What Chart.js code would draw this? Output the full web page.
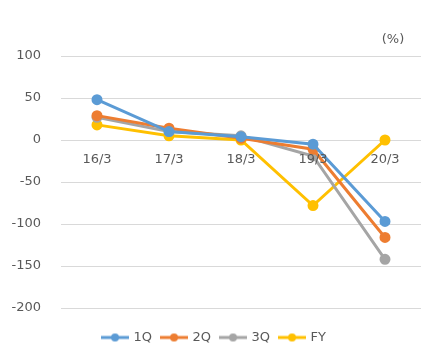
<!DOCTYPE html>
<html><head><meta charset="utf-8">
<script src="https://cdn.jsdelivr.net/npm/chart.js@4/dist/chart.umd.min.js"></script>
<style>html,body{margin:0;padding:0;background:#fff}</style>
</head><body><canvas id="c" width="436" height="360"></canvas>
<script>
const categories = ['16/3','17/3','18/3','19/3','20/3'];
const q1 = [48, 10, 4, -5, -97];
const q2 = [29, 14, 2, -11, -116];
const q3 = [27, 10, 5, -19, -142];
const fy = [18, 5, 0, -78, 0];
const seriesNames = ['1Q','2Q','3Q','FY'];
const colors = ['#5B9BD5','#ED7D31','#A5A5A5','#FFC000'];
const unitLabel = '(%)';
const fontFam = "'DejaVu Sans', Verdana, sans-serif";
const textColor = '#595959';
const gridColor = '#D9D9D9';

function legendIcon(color){
  const cv = document.createElement('canvas');
  cv.width = 28; cv.height = 10;
  const g = cv.getContext('2d');
  g.strokeStyle = color; g.lineWidth = 3;
  g.beginPath(); g.moveTo(0,5); g.lineTo(28,5); g.stroke();
  g.fillStyle = color; g.beginPath(); g.arc(14,5,4,0,Math.PI*2); g.fill();
  return cv;
}
const icons = colors.map(legendIcon);

const allData = [q1,q2,q3,fy];
const datasets = allData.map((d,i)=>({
  label: seriesNames[i], data: d, borderColor: colors[i], backgroundColor: colors[i],
  borderWidth: 3, pointRadius: 4, pointHoverRadius: 4, pointStyle:'circle', tension: 0
}));

// horizontal grid at the y scale's own ticks
const gridPlugin = {
  id:'gridFallback',
  beforeDatasetsDraw(chart){
    const {ctx, chartArea, scales} = chart;
    ctx.save();
    ctx.strokeStyle = gridColor; ctx.lineWidth = 1;
    scales.y.ticks.forEach(t=>{
      const y = Math.round(scales.y.getPixelForValue(t.value)) + 0.5;
      ctx.beginPath(); ctx.moveTo(chartArea.left, y); ctx.lineTo(chartArea.right, y); ctx.stroke();
    });
    ctx.restore();
  }
};

// category labels at the y=0 line, positioned through the chart's own scales
const extraText = {
  id:'extraText',
  afterDatasetsDraw(chart){
    const {ctx, chartArea, scales} = chart;
    ctx.save();
    ctx.font = '13px ' + fontFam;
    ctx.fillStyle = textColor;
    ctx.textAlign = 'center';
    ctx.textBaseline = 'middle';
    const y0 = scales.y.getPixelForValue(0);
    categories.forEach((c,i)=>{
      ctx.fillText(c, scales.x.getPixelForValue(i), y0 + 20);
    });
    ctx.fillText(unitLabel, chartArea.right - 28, chartArea.top - 16);
    ctx.restore();
  }
};

new Chart(document.getElementById('c'), {
  type:'line',
  data:{labels:categories, datasets},
  options:{
    responsive:false, animation:false,
    layout:{padding:{top:56, right:15, left:8, bottom:6}},
    plugins:{
      legend:{position:'bottom',
        title:{display:true, text:' ', font:{size:10}, padding:{top:0, bottom:1}},
        labels:{
          usePointStyle:true, pointStyleWidth:24, boxHeight:10, padding:10,
          color:textColor, font:{size:13, family:fontFam},
          generateLabels(chart){
            return chart.data.datasets.map((ds,i)=>({
              text: ds.label, pointStyle: icons[i], fillStyle: colors[i],
              strokeStyle: colors[i], lineWidth:0, datasetIndex:i, hidden:false, fontColor:textColor
            }));
          }
        }
      },
      tooltip:{enabled:false}
    },
    scales:{
      x:{ display:false, offset:true },
      y:{ min:-200, max:100,
        afterFit(scale){ scale.width = 53; },
        grid:{color:gridColor, lineWidth:1, drawTicks:false}, border:{display:false},
        ticks:{stepSize:50, color:textColor, font:{size:13, family:fontFam}, padding:20}
      }
    }
  },
  plugins:[gridPlugin, extraText]
});
</script></body></html>
